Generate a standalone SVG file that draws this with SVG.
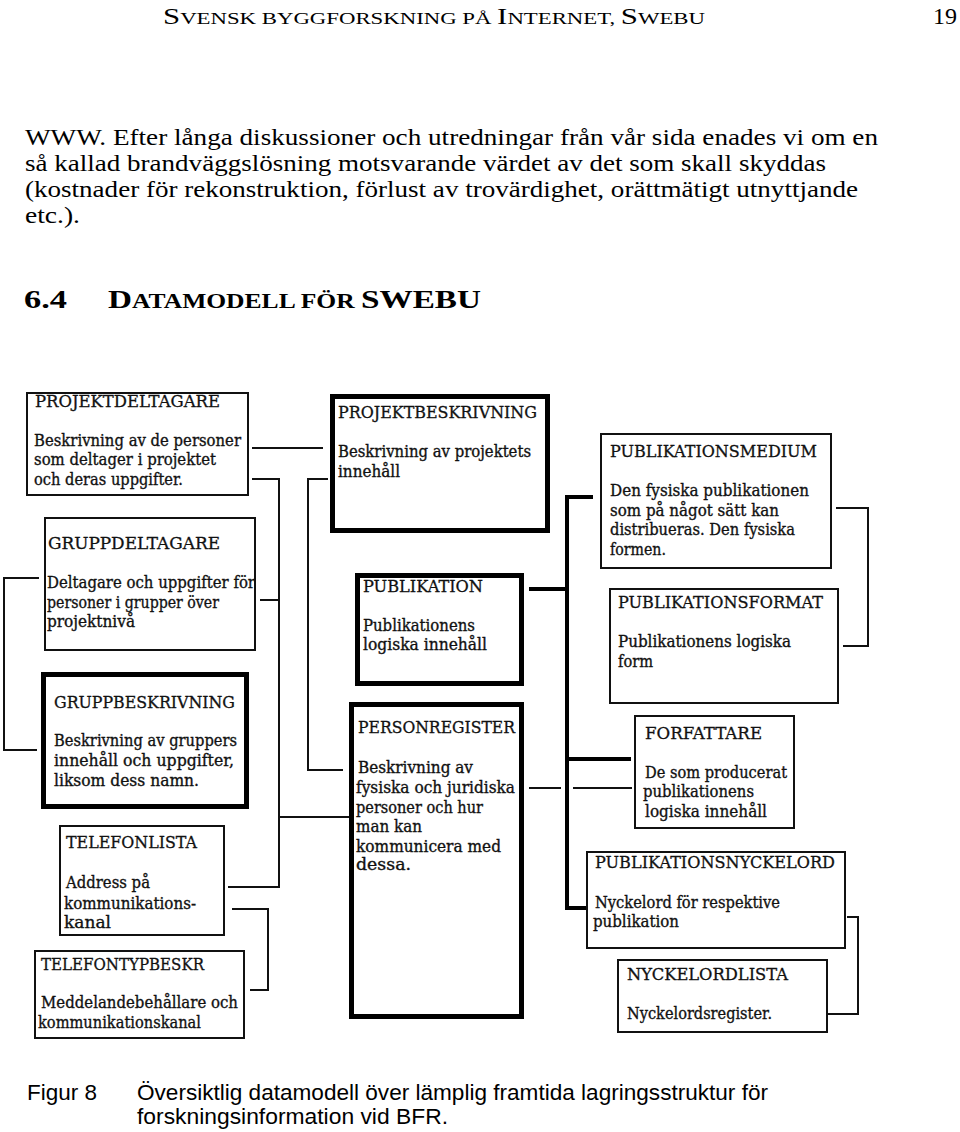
<svg xmlns="http://www.w3.org/2000/svg" width="960" height="1132" viewBox="0 0 960 1132">
<style>
.bg{fill:#fff}
.box{fill:#fff;stroke:#111;stroke-width:2}
.tbox{fill:#fff;stroke:#000;stroke-width:5}
.t{font-family:"DejaVu Serif","Liberation Serif",serif;font-size:16px;fill:#111;stroke:#111;stroke-width:0.35}
.h{font-family:"DejaVu Serif","Liberation Serif",serif;font-size:16px;fill:#111;stroke:#111;stroke-width:0.3}
.c{fill:none;stroke:#111;stroke-width:2}
.ck{fill:none;stroke:#000;stroke-width:4}
.doc{font-family:"Liberation Serif","Times New Roman",serif;fill:#000}
.cap{font-family:"Liberation Sans",Arial,sans-serif;fill:#000;font-size:22px}
</style>
<rect class="bg" x="0" y="0" width="960" height="1132"/>
<g id="page-text">
<text class="doc" x="163" y="24" font-size="23" textLength="542" lengthAdjust="spacingAndGlyphs">S<tspan font-size="17">VENSK BYGGFORSKNING PÅ </tspan>I<tspan font-size="17">NTERNET, </tspan>S<tspan font-size="17">WEBU</tspan></text>
<text class="doc" x="933" y="24" font-size="23" textLength="24" lengthAdjust="spacingAndGlyphs">19</text>
<text class="doc" x="25" y="145" font-size="24" textLength="853" lengthAdjust="spacingAndGlyphs">WWW. Efter långa diskussioner och utredningar från vår sida enades vi om en</text>
<text class="doc" x="25" y="171" font-size="24" textLength="801" lengthAdjust="spacingAndGlyphs">så kallad brandväggslösning motsvarande värdet av det som skall skyddas</text>
<text class="doc" x="25" y="197" font-size="24" textLength="833" lengthAdjust="spacingAndGlyphs">(kostnader för rekonstruktion, förlust av trovärdighet, orättmätigt utnyttjande</text>
<text class="doc" x="25" y="223" font-size="24" textLength="55" lengthAdjust="spacingAndGlyphs">etc.).</text>
<text class="doc" x="24" y="308" font-size="26" font-weight="bold" textLength="43" lengthAdjust="spacingAndGlyphs">6.4</text>
<text class="doc" x="108" y="308" font-size="26" font-weight="bold" textLength="373" lengthAdjust="spacingAndGlyphs">D<tspan font-size="20">ATAMODELL FÖR </tspan>SWEBU</text>
<text class="cap" x="27" y="1100" textLength="70" lengthAdjust="spacingAndGlyphs">Figur 8</text>
<text class="cap" x="137" y="1100" textLength="631" lengthAdjust="spacingAndGlyphs">Översiktlig datamodell över lämplig framtida lagringsstruktur för</text>
<text class="cap" x="137" y="1124" textLength="311" lengthAdjust="spacingAndGlyphs">forskningsinformation vid BFR.</text>
</g>
<g id="connectors">
<path class="c" d="M252 448H323"/>
<path class="c" d="M252 479H279V887H228"/>
<path class="c" d="M260 600H279"/>
<path class="c" d="M279 817H349"/>
<path class="c" d="M328 479H308V770H343"/>
<path class="c" d="M39 578H4V750H37"/>
<path class="c" d="M232 909H268V990H250"/>
<path class="c" d="M836 508H868V646H843"/>
<path class="c" d="M847 917H858V1014H828"/>
<path class="c" d="M529 788H561M573 788H632"/>
<path class="ck" d="M593 497H567V908H587"/>
<path class="ck" d="M529 589H567"/>
<path class="ck" d="M567 759H631"/>
</g>
<g id="projektdeltagare">
<rect class="box" x="27" y="393" width="221" height="102"/>
<text class="h" x="35" y="407" textLength="185" lengthAdjust="spacingAndGlyphs">PROJEKTDELTAGARE</text>
<text class="t" x="34" y="446" textLength="207" lengthAdjust="spacingAndGlyphs">Beskrivning av de personer</text>
<text class="t" x="34" y="465" textLength="182" lengthAdjust="spacingAndGlyphs">som deltager i projektet</text>
<text class="t" x="34" y="485" textLength="149" lengthAdjust="spacingAndGlyphs">och deras uppgifter.</text>
</g>
<g id="gruppdeltagare">
<rect class="box" x="45" y="518" width="210" height="132"/>
<text class="h" x="48" y="549" textLength="172" lengthAdjust="spacingAndGlyphs">GRUPPDELTAGARE</text>
<text class="t" x="47" y="588" textLength="208" lengthAdjust="spacingAndGlyphs">Deltagare och uppgifter för</text>
<text class="t" x="47" y="608" textLength="172" lengthAdjust="spacingAndGlyphs">personer i grupper över</text>
<text class="t" x="47" y="627" textLength="88" lengthAdjust="spacingAndGlyphs">projektnivå</text>
</g>
<g id="gruppbeskrivning">
<rect class="tbox" x="43.5" y="674.5" width="203" height="132"/>
<text class="h" x="54" y="708" textLength="181" lengthAdjust="spacingAndGlyphs">GRUPPBESKRIVNING</text>
<text class="t" x="54" y="746" textLength="183" lengthAdjust="spacingAndGlyphs">Beskrivning av gruppers</text>
<text class="t" x="54" y="766" textLength="180" lengthAdjust="spacingAndGlyphs">innehåll och uppgifter,</text>
<text class="t" x="54" y="786" textLength="145" lengthAdjust="spacingAndGlyphs">liksom dess namn.</text>
</g>
<g id="telefonlista">
<rect class="box" x="60" y="826" width="164" height="109"/>
<text class="h" x="66" y="848" textLength="131" lengthAdjust="spacingAndGlyphs">TELEFONLISTA</text>
<text class="t" x="66" y="888" textLength="84" lengthAdjust="spacingAndGlyphs">Address på</text>
<text class="t" x="64" y="909" textLength="132" lengthAdjust="spacingAndGlyphs">kommunikations-</text>
<text class="t" x="64" y="928" textLength="47" lengthAdjust="spacingAndGlyphs">kanal</text>
</g>
<g id="telefontypbeskr">
<rect class="box" x="35" y="951" width="209" height="87"/>
<text class="h" x="41" y="970" textLength="163" lengthAdjust="spacingAndGlyphs">TELEFONTYPBESKR</text>
<text class="t" x="41" y="1008" textLength="197" lengthAdjust="spacingAndGlyphs">Meddelandebehållare och</text>
<text class="t" x="38" y="1028" textLength="163" lengthAdjust="spacingAndGlyphs">kommunikationskanal</text>
</g>
<g id="projektbeskrivning">
<rect class="tbox" x="332.5" y="396.5" width="215" height="134"/>
<text class="h" x="338" y="418" textLength="199" lengthAdjust="spacingAndGlyphs">PROJEKTBESKRIVNING</text>
<text class="t" x="338" y="457" textLength="193" lengthAdjust="spacingAndGlyphs">Beskrivning av projektets</text>
<text class="t" x="338" y="477" textLength="62" lengthAdjust="spacingAndGlyphs">innehåll</text>
</g>
<g id="publikation">
<rect class="tbox" x="357.5" y="575.5" width="164" height="108"/>
<text class="h" x="363" y="592" textLength="120" lengthAdjust="spacingAndGlyphs">PUBLIKATION</text>
<text class="t" x="363" y="631" textLength="112" lengthAdjust="spacingAndGlyphs">Publikationens</text>
<text class="t" x="363" y="650" textLength="124" lengthAdjust="spacingAndGlyphs">logiska innehåll</text>
</g>
<g id="personregister">
<rect class="tbox" x="351.5" y="704.5" width="170" height="312"/>
<text class="h" x="358" y="733" textLength="157" lengthAdjust="spacingAndGlyphs">PERSONREGISTER</text>
<text class="t" x="358" y="773" textLength="115" lengthAdjust="spacingAndGlyphs">Beskrivning av</text>
<text class="t" x="356" y="793" textLength="159" lengthAdjust="spacingAndGlyphs">fysiska och juridiska</text>
<text class="t" x="356" y="813" textLength="127" lengthAdjust="spacingAndGlyphs">personer och hur</text>
<text class="t" x="356" y="832" textLength="66" lengthAdjust="spacingAndGlyphs">man kan</text>
<text class="t" x="356" y="852" textLength="145" lengthAdjust="spacingAndGlyphs">kommunicera med</text>
<text class="t" x="356" y="870" textLength="55" lengthAdjust="spacingAndGlyphs">dessa.</text>
</g>
<g id="publikationsmedium">
<rect class="box" x="601" y="434" width="230" height="134"/>
<text class="h" x="610" y="457" textLength="207" lengthAdjust="spacingAndGlyphs">PUBLIKATIONSMEDIUM</text>
<text class="t" x="610" y="496" textLength="199" lengthAdjust="spacingAndGlyphs">Den fysiska publikationen</text>
<text class="t" x="610" y="516" textLength="169" lengthAdjust="spacingAndGlyphs">som på något sätt kan</text>
<text class="t" x="610" y="535" textLength="185" lengthAdjust="spacingAndGlyphs">distribueras. Den fysiska</text>
<text class="t" x="610" y="555" textLength="56" lengthAdjust="spacingAndGlyphs">formen.</text>
</g>
<g id="publikationsformat">
<rect class="box" x="610" y="589" width="228" height="114"/>
<text class="h" x="618" y="608" textLength="205" lengthAdjust="spacingAndGlyphs">PUBLIKATIONSFORMAT</text>
<text class="t" x="618" y="647" textLength="173" lengthAdjust="spacingAndGlyphs">Publikationens logiska</text>
<text class="t" x="618" y="667" textLength="35" lengthAdjust="spacingAndGlyphs">form</text>
</g>
<g id="forfattare">
<rect class="box" x="635" y="716" width="159" height="112"/>
<text class="h" x="645" y="739" textLength="117" lengthAdjust="spacingAndGlyphs">FORFATTARE</text>
<text class="t" x="645" y="778" textLength="142" lengthAdjust="spacingAndGlyphs">De som producerat</text>
<text class="t" x="643" y="797" textLength="111" lengthAdjust="spacingAndGlyphs">publikationens</text>
<text class="t" x="645" y="817" textLength="122" lengthAdjust="spacingAndGlyphs">logiska innehåll</text>
</g>
<g id="publikationsnyckelord">
<rect class="box" x="587" y="852" width="258" height="96"/>
<text class="h" x="595" y="868" textLength="240" lengthAdjust="spacingAndGlyphs">PUBLIKATIONSNYCKELORD</text>
<text class="t" x="595" y="908" textLength="185" lengthAdjust="spacingAndGlyphs">Nyckelord för respektive</text>
<text class="t" x="593" y="927" textLength="86" lengthAdjust="spacingAndGlyphs">publikation</text>
</g>
<g id="nyckelordlista">
<rect class="box" x="618" y="960" width="209" height="72"/>
<text class="h" x="627" y="980" textLength="161" lengthAdjust="spacingAndGlyphs">NYCKELORDLISTA</text>
<text class="t" x="627" y="1019" textLength="145" lengthAdjust="spacingAndGlyphs">Nyckelordsregister.</text>
</g>
</svg>
